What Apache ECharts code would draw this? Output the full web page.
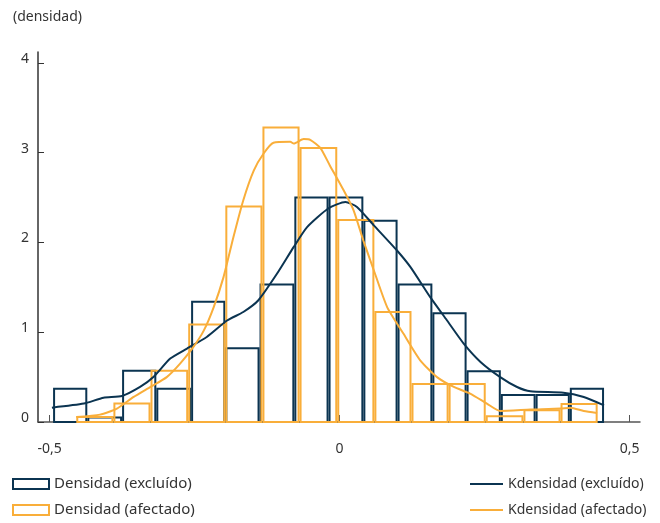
<!DOCTYPE html>
<html>
<head>
<meta charset="utf-8">
<script src="https://cdn.jsdelivr.net/npm/echarts@6/dist/echarts.min.js"></script>
<style>
  html, body { margin: 0; padding: 0; background: #fff; }
  #chart { width: 660px; height: 523px; }
</style>
</head>
<body>
<div id="chart"></div>
<script>
// histogram bin edges and densities
const exclEdges = [-0.494, -0.435, -0.375, -0.316, -0.256, -0.197, -0.138, -0.078, -0.019, 0.041, 0.100, 0.160, 0.219, 0.278, 0.338, 0.397, 0.456];
const exclDens = [0.37, 0.05, 0.57, 0.37, 1.34, 0.82, 1.53, 2.50, 2.50, 2.24, 1.53, 1.21, 0.565, 0.30, 0.30, 0.37];
const afecEdges = [-0.454, -0.390, -0.326, -0.261, -0.197, -0.133, -0.069, -0.004, 0.060, 0.124, 0.188, 0.252, 0.317, 0.381, 0.445];
const afecDens = [0.056, 0.205, 0.57, 1.085, 2.40, 3.28, 3.05, 2.25, 1.225, 0.423, 0.423, 0.063, 0.13, 0.20];

// kernel density curves
const kExclX = [-0.496, -0.441, -0.407, -0.375, -0.344, -0.321, -0.292, -0.263, -0.229, -0.194, -0.166, -0.14, -0.108, -0.079, -0.056, -0.019, 0.01, 0.03, 0.059, 0.099, 0.122, 0.156, 0.185, 0.214, 0.243, 0.277, 0.306, 0.329, 0.386, 0.421, 0.456];
const kExclY = [0.16, 0.205, 0.27, 0.29, 0.39, 0.50, 0.706, 0.818, 0.947, 1.13, 1.225, 1.356, 1.65, 1.95, 2.17, 2.38, 2.45, 2.395, 2.19, 1.91, 1.727, 1.393, 1.133, 0.873, 0.669, 0.50, 0.39, 0.342, 0.327, 0.279, 0.186];
const kAfecX = [-0.454, -0.413, -0.384, -0.355, -0.326, -0.298, -0.275, -0.252, -0.234, -0.217, -0.2, -0.183, -0.166, -0.148, -0.131, -0.114, -0.085, -0.079, -0.062, -0.05, -0.033, -0.017, 0.007, 0.024, 0.041, 0.059, 0.082, 0.11, 0.139, 0.168, 0.197, 0.225, 0.254, 0.277, 0.329, 0.381, 0.398, 0.421, 0.444];
const kAfecY = [0.056, 0.082, 0.149, 0.279, 0.39, 0.50, 0.65, 0.836, 1.02, 1.28, 1.616, 2.06, 2.47, 2.80, 2.99, 3.11, 3.12, 3.10, 3.15, 3.14, 3.05, 2.86, 2.58, 2.36, 2.02, 1.69, 1.28, 0.985, 0.687, 0.50, 0.39, 0.316, 0.205, 0.123, 0.138, 0.149, 0.16, 0.123, 0.10];

const xTicks = [-0.5, 0, 0.5];
const yTicks = [0, 1, 2, 3, 4];

const NAVY = "#0b3451";
const ORANGE = "#f9ae3a";
const FONT = "Noto Sans";

const binData = (edges, dens) => dens.map((d, i) => [edges[i], edges[i + 1], d]);
const pairs = (xs, ys) => xs.map((x, i) => [x, ys[i]]);

// outlined histogram bars
const histRender = (color) => (params, api) => {
    const p0 = api.coord([api.value(0), 0]);
    const p1 = api.coord([api.value(1), api.value(2)]);
    return {
        type: "rect",
        shape: { x: p0[0] + 1, y: p1[1], width: p1[0] - p0[0] - 2, height: p0[1] - p1[1] },
        style: { fill: "none", stroke: color, lineWidth: 2 }
    };
};

const chart = echarts.init(document.getElementById("chart"));
chart.setOption({
    animation: false,
    title: {
        text: "(densidad)",
        left: 8,
        top: 5,
        textStyle: { fontFamily: FONT, fontSize: 14, fontWeight: "normal", color: "#333" }
    },
    grid: { left: 38, top: 52, width: 602, height: 370, containLabel: false },
    legend: [
        {
            orient: "vertical",
            left: 12,
            top: 476,
            padding: 0,
            itemWidth: 36,
            itemHeight: 10,
            itemGap: 10,
            textStyle: { fontFamily: FONT, fontSize: 15, color: "#333", lineHeight: 16 },
            data: [
                { name: "Densidad (excluído)", icon: "rect", itemStyle: { color: "#fff", borderColor: NAVY, borderWidth: 2 } },
                { name: "Densidad (afectado)", icon: "rect", itemStyle: { color: "#fff", borderColor: ORANGE, borderWidth: 2 } }
            ]
        },
        {
            orient: "vertical",
            left: 470,
            top: 476,
            padding: 0,
            itemWidth: 33,
            itemHeight: 2,
            itemGap: 10,
            textStyle: { fontFamily: FONT, fontSize: 14, color: "#333", lineHeight: 16 },
            data: [
                { name: "Kdensidad (excluído)", icon: "rect", itemStyle: { color: NAVY } },
                { name: "Kdensidad (afectado)", icon: "rect", itemStyle: { color: ORANGE } }
            ]
        }
    ],
    xAxis: {
        type: "value",
        min: -0.52,
        max: 0.518,
        splitLine: { show: false },
        axisLine: { show: true, onZero: false, lineStyle: { color: "#555", width: 1.5 } },
        axisTick: { show: true, inside: true, length: 7, customValues: xTicks, lineStyle: { color: "#555" } },
        axisLabel: {
            customValues: xTicks,
            margin: 20,
            fontFamily: FONT,
            fontSize: 14,
            color: "#333",
            formatter: (v) => String(v).replace(".", ",")
        }
    },
    yAxis: {
        type: "value",
        min: 0,
        max: 4.12,
        splitLine: { show: false },
        axisLine: { show: true, onZero: false, lineStyle: { color: "#333", width: 1.5 } },
        axisTick: { show: true, inside: true, length: 6, customValues: yTicks, lineStyle: { color: "#333" } },
        axisLabel: {
            customValues: yTicks,
            margin: 9,
            verticalAlign: "bottom",
            lineHeight: 8,
            fontFamily: FONT,
            fontSize: 14,
            color: "#333"
        }
    },
    series: [
        {
            name: "Densidad (excluído)",
            type: "custom",
            renderItem: histRender(NAVY),
            encode: { x: [0, 1], y: 2 },
            itemStyle: { color: NAVY },
            data: binData(exclEdges, exclDens),
            z: 2
        },
        {
            name: "Densidad (afectado)",
            type: "custom",
            renderItem: histRender(ORANGE),
            encode: { x: [0, 1], y: 2 },
            itemStyle: { color: ORANGE },
            data: binData(afecEdges, afecDens),
            z: 3
        },
        {
            name: "Kdensidad (excluído)",
            type: "line",
            symbol: "none",
            smooth: 0.2,
            lineStyle: { color: NAVY, width: 2 },
            itemStyle: { color: NAVY },
            data: pairs(kExclX, kExclY),
            z: 4
        },
        {
            name: "Kdensidad (afectado)",
            type: "line",
            symbol: "none",
            smooth: 0.2,
            lineStyle: { color: ORANGE, width: 2 },
            itemStyle: { color: ORANGE },
            data: pairs(kAfecX, kAfecY),
            z: 5
        }
    ]
});
</script>
</body>
</html>
